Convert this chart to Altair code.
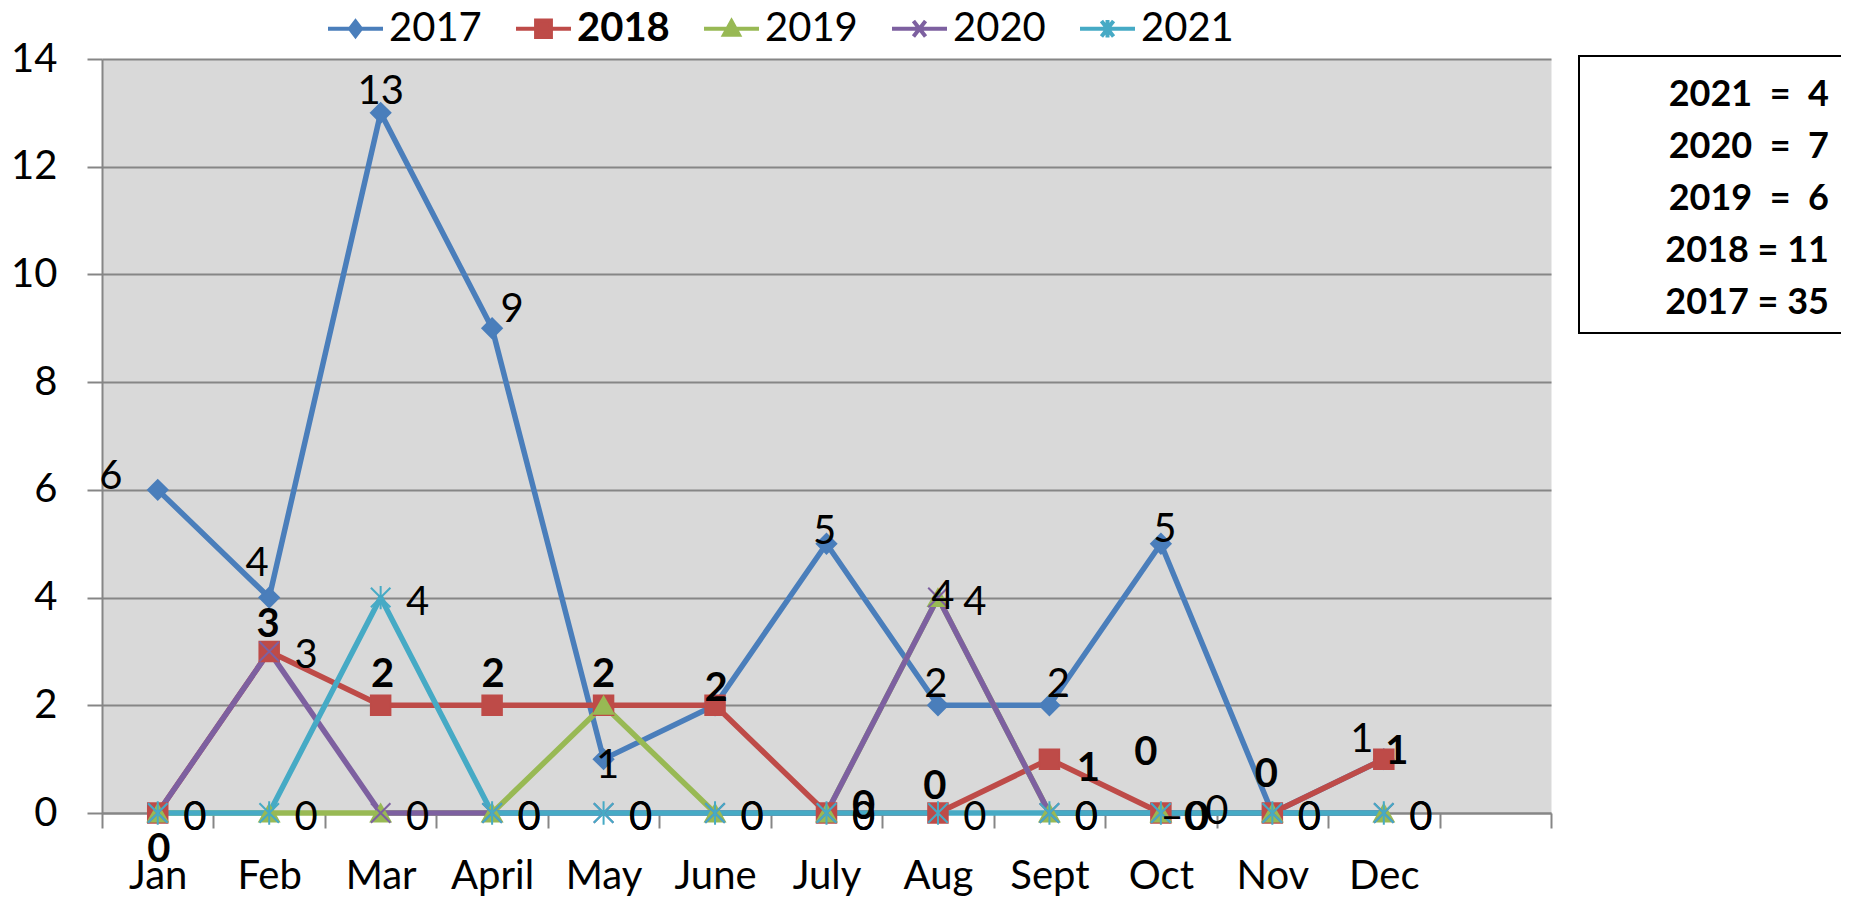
import altair as alt
import pandas as pd

# ---------------- data ----------------
MONTHS = ["Jan", "Feb", "Mar", "April", "May", "June", "July", "Aug", "Sept", "Oct", "Nov", "Dec"]
YEARS = ["2017", "2018", "2019", "2020", "2021"]
V2017 = [6, 4, 13, 9, 1, 2, 5, 2, 2, 5, 0, 1]
V2018 = [0, 3, 2, 2, 2, 2, 0, 0, 1, 0, 0, 1]
V2019 = [0, 0, 0, 0, 2, 0, 0, 4, 0, 0, 0, 0]
V2020 = [0, 3, 0, 0, 0, 0, 0, 4, 0, 0, 0, 0]
V2021 = [0, 0, 4, 0, 0, 0, 0, 0, 0, 0, 0, 0]
SERIES = [V2017, V2018, V2019, V2020, V2021]
Y_TICKS = [0, 2, 4, 6, 8, 10, 12, 14]

BOX_YEARS = ["2021", "2020", "2019", "2018", "2017"]
BOX_TOTALS = [4, 7, 6, 11, 35]

# ---------------- styles ----------------
COLORS = ["#4A7EBB", "#BE4B48", "#98B954", "#7D60A0", "#46AAC5"]
FONT = "Lato"
GRID = "#868686"
X_SHAPE = "M-1,-1L1,1M1,-1L-1,1"
STAR_SHAPE = "M-1,-1L1,1M1,-1L-1,1M0,-1.2L0,1.2"
SHAPES = ["diamond", "square", "triangle-up", X_SHAPE, STAR_SHAPE]
LEGEND_PATHS = {
    "2017": "M-1,0L1,0M-0.2,0L0,-0.26L0.2,0L0,0.26Z",
    "2018": "M-1,0L1,0M-0.27,-0.3L0.27,-0.3L0.27,0.3L-0.27,0.3Z",
    "2019": "M-1,0L1,0M0,-0.27L0.27,0.22L-0.27,0.22Z",
    "2020": "M-1,0L1,0M-0.22,-0.28L0.22,0.28M0.22,-0.28L-0.22,0.28",
    "2021": "M-1,0L1,0M-0.22,-0.28L0.22,0.28M0.22,-0.28L-0.22,0.28M0,-0.32L0,0.32",
}

# data label placement (pixel offsets from the point), per series / month
LBL_2017 = {"Jan": (-47, -13), "Feb": (-12, -34), "Mar": (0, -21), "April": (20, -18),
            "May": (4, 7), "July": (-2, -12), "Aug": (-2, -20), "Sept": (9, -20),
            "Oct": (4, -14), "Dec": (-22, -19)}
LBL_2018 = {"Jan": (1, 37), "Feb": (-1, -26), "Mar": (2, -30), "April": (1, -30),
            "May": (0, -30), "June": (1, -16), "July": (37, -6), "Aug": (-3, -26),
            "Sept": (39, 10), "Oct": (-15, -60), "Nov": (-6, -38), "Dec": (13, -7)}
LBL_2019 = {"Aug": (5, -1), "Oct": (46, 5, "right", "\u2013")}
LBL_2020 = {m: (37, 5) for m in MONTHS}
LBL_2021 = {m: (37, 5) for m in MONTHS}
LBL_2021["Oct"] = (56, -1)
LABELS = {"2017": LBL_2017, "2018": LBL_2018, "2019": LBL_2019, "2020": LBL_2020, "2021": LBL_2021}

# ---------------- tables ----------------
rows = []
for k, (y, vals) in enumerate(zip(YEARS, SERIES)):
    for i, (m, v) in enumerate(zip(MONTHS, vals)):
        rows.append({"year": y, "month": m, "idx": i, "value": v,
                     "lcolor": COLORS[k], "pshape": SHAPES[k]})
df = pd.DataFrame(rows)

lab_rows = []
groups = {}
for y, vals in zip(YEARS, SERIES):
    for i, (m, v) in enumerate(zip(MONTHS, vals)):
        spec = LABELS[y].get(m)
        if spec is None:
            continue
        dx, dy = spec[0], spec[1]
        align = spec[2] if len(spec) > 2 else "center"
        prefix = spec[3] if len(spec) > 3 else ""
        weight = "bold" if y == "2018" else "normal"
        key = (dx, dy, align, weight)
        gid = groups.setdefault(key, len(groups))
        lab_rows.append({"year": y, "month": m, "value": v, "text": prefix + str(v), "gid": gid})
lab_df = pd.DataFrame(lab_rows)

# ---------------- encodings ----------------
x_enc = alt.X(
    "month:N",
    scale=alt.Scale(type="band", domain=MONTHS + [" "], paddingInner=0, paddingOuter=0),
    axis=alt.Axis(title=None, labelAngle=0, tickBand="extent", ticks=True, tickSize=15,
                  tickColor=GRID, tickWidth=2, domainColor=GRID, domainWidth=2,
                  labelFont=FONT, labelFontSize=40, labelColor="black", labelPadding=28,
                  grid=False),
)
y_enc = alt.Y(
    "value:Q",
    scale=alt.Scale(domain=[0, 14], nice=False),
    axis=alt.Axis(title=None, values=Y_TICKS, grid=True, gridColor=GRID, gridWidth=2,
                  tickSize=15, tickColor=GRID, tickWidth=2, domainColor=GRID, domainWidth=2,
                  labelFont=FONT, labelFontSize=40, labelColor="black", labelPadding=30),
)

color_scale = alt.Scale(domain=YEARS, range=COLORS)

sym_expr = ""
for y in YEARS[:-1]:
    sym_expr += f"datum.value == '{y}' ? '{LEGEND_PATHS[y]}' : "
sym_expr += f"'{LEGEND_PATHS[YEARS[-1]]}'"

legend = alt.Legend(
    title=None, orient="none", legendX=224, legendY=-60, direction="horizontal",
    labelFont=FONT, labelFontSize=40, labelColor="black",
    labelFontWeight=alt.ExprRef(expr="datum.value == '2018' ? 'bold' : 'normal'"),
    labelOffset=4, columnPadding=26, symbolSize=3025, symbolStrokeWidth=4,
    symbolType=alt.ExprRef(expr=sym_expr), symbolOpacity=1, padding=0, labelLimit=300,
)

base = alt.Chart(df)

lines = base.mark_line(strokeWidth=5.5, strokeJoin="round").encode(
    x=x_enc, y=y_enc,
    color=alt.Color("lcolor:N", scale=None),
    detail="year:N",
    order=alt.Order("idx:Q"),
)

points = base.mark_point(filled=True, opacity=1, size=380, strokeWidth=2).encode(
    x=x_enc, y=y_enc,
    fill=alt.Fill("year:N", scale=color_scale, legend=legend),
    stroke=alt.Stroke("year:N", scale=color_scale, legend=legend),
    shape=alt.Shape("pshape:N", scale=None),
)

label_layers = []
for (dx, dy, align, weight), gid in groups.items():
    label_layers.append(
        alt.Chart(lab_df).transform_filter(f"datum.gid == {gid}").mark_text(
            font=FONT, fontSize=40, fontWeight=weight, color="black",
            align=align, baseline="middle", dx=dx, dy=dy,
        ).encode(x=x_enc, y=y_enc, text="text:N")
    )

box_lines = []
for y, t in zip(BOX_YEARS, BOX_TOTALS):
    sep = "\u00a0\u00a0" if t < 10 else "\u00a0"
    box_lines.append(f"{y}{sep}={sep}{t}")

one = pd.DataFrame({"k": [0]})
box = alt.Chart(one).mark_rect(fill="white", stroke="black", strokeWidth=2).encode(
    x=alt.value(1477), x2=alt.value(1800), y=alt.value(-3), y2=alt.value(274)
)
box_text = alt.Chart(one).mark_text(
    align="right", baseline="top", font=FONT, fontSize=36, fontWeight="bold",
    lineHeight=52, color="black",
).encode(x=alt.value(1727), y=alt.value(19), text=alt.value(box_lines))

chart = alt.layer(lines, points, box, box_text, *label_layers).properties(
    width=1449, height=754,
    padding={"left": 94, "top": 51, "right": 290, "bottom": 85},
    autosize=alt.AutoSizeParams(type="none"),
    background="white",
).configure_view(fill="#D9D9D9", stroke="transparent")

chart.save("out.html", embed_options={"renderer": "svg", "actions": False})
